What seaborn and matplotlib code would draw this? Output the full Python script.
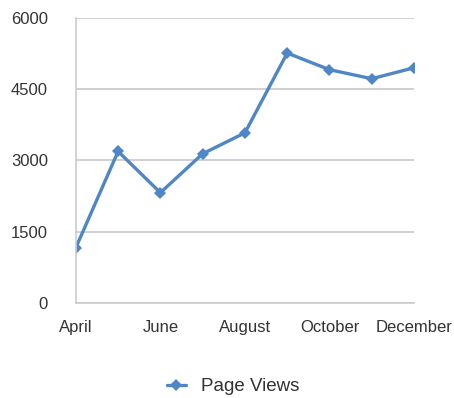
import matplotlib
matplotlib.use("Agg")
import matplotlib.pyplot as plt
import seaborn as sns
import pandas as pd

months = ["April", "May", "June", "July", "August", "September", "October", "November", "December"]
page_views = [1160, 3190, 2320, 3140, 3580, 5260, 4910, 4720, 4950]
shown_labels = ["April", "", "June", "", "August", "", "October", "", "December"]
y_ticks = [0, 1500, 3000, 4500, 6000]

sns.set_theme(style="white")
plt.rcParams['font.family'] = ['Liberation Sans', 'DejaVu Sans']

df = pd.DataFrame({"Month": months, "Page Views": page_views})

fig = plt.figure(figsize=(4.54, 3.98), dpi=100)
ax = fig.add_axes([0.167, 0.239, 0.745, 0.716])
color = "#4f86c6"
sns.lineplot(data=df, x="Month", y="Page Views", sort=False, ax=ax, color=color,
             linewidth=2.4, marker="D", markersize=6, markeredgewidth=0,
             label="Page Views")

ax.set_xlim(0, len(months) - 1)
ax.set_ylim(0, 6000)
ax.set_yticks(y_ticks)
ax.set_yticklabels([str(v) for v in y_ticks])
ax.set_xticks(range(len(months)))
ax.set_xticklabels(shown_labels)
ax.set_xlabel("")
ax.set_ylabel("")
ax.yaxis.grid(True, color="#c8c8c8", linewidth=1.2)
ax.set_axisbelow(True)
for s in ["top", "right"]:
    ax.spines[s].set_visible(False)
for s in ["left", "bottom"]:
    ax.spines[s].set_color("#cccccc")
    ax.spines[s].set_linewidth(1.2)
ax.tick_params(axis="x", length=3, color="#cccccc", width=1, direction="out",
               labelsize=12, labelcolor="#333333", pad=9)
ax.tick_params(axis="y", length=0, labelsize=12, labelcolor="#333333", pad=20)

ax.legend(loc="upper center", bbox_to_anchor=(0.465, -0.205), frameon=False,
          fontsize=13.5, labelcolor="#333333", handlelength=1.0, handletextpad=0.8)

fig.savefig("out.png", dpi=100)
